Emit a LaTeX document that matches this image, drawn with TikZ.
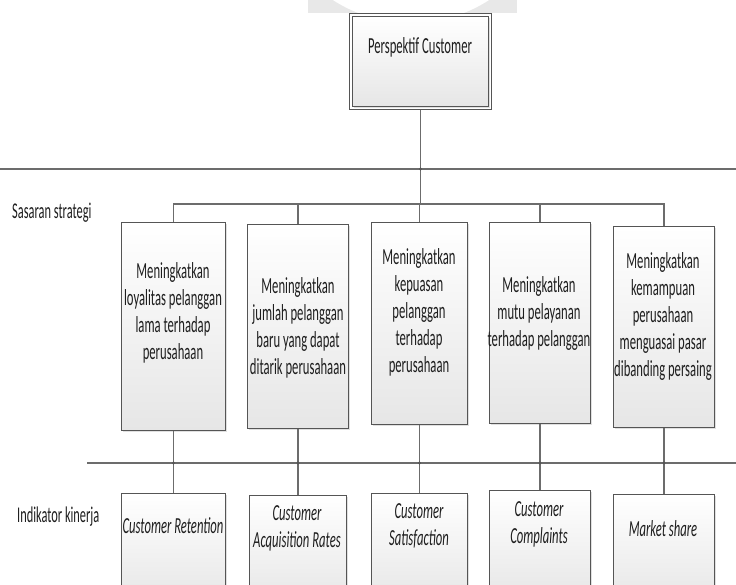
\documentclass[tikz,border=0pt]{standalone}
\usepackage{fontspec}
\setmainfont[FakeStretch=0.55]{Carlito}
\usetikzlibrary{shadows,fit,calc}
\definecolor{linegray}{HTML}{6C6C6C}
\definecolor{boxline}{HTML}{555555}
\definecolor{boxbottom}{HTML}{E6E6E6}
\definecolor{wmark}{HTML}{E8E8E8}
\definecolor{ink}{HTML}{1E1E1E}

\begin{document}
\begin{tikzpicture}[x=1pt,y=-1pt,
  conn/.style={draw=linegray, line width=1.1pt},
  boxshade/.style={draw=boxline, line width=0.9pt, top color=white, bottom color=boxbottom,
    drop shadow={shadow xshift=1.5pt, shadow yshift=-1.5pt, fill=black!12, opacity=1}},
  sbox/.style={boxshade, inner sep=0pt, anchor=north west},
  lbl/.style={font=\fontsize{23}{27}\selectfont, align=center, inner sep=0pt, text=ink},
  ilbl/.style={lbl, font=\fontsize{23}{27}\selectfont\itshape},
  side/.style={font=\fontsize{22.5}{24}\selectfont, inner sep=0pt, text=ink, anchor=west},
  jdot/.style={fill=boxline}]

\useasboundingbox (0,0) rectangle (736,584);
\clip (0,0) rectangle (736,584);

% faint strip along the top edge
\begin{scope}
  \clip (308,0) rectangle (517,13);
  \fill[wmark] (308,0) rectangle (517,13);
  \fill[white] (411,-121) circle (144);
\end{scope}

% top box with double frame
\node[sbox, minimum width=136pt, minimum height=90pt] (pc) at (352,16) {};
\node[draw=boxline, line width=0.9pt, fit=(pc), inner sep=3pt] (pcf) {};
\node[lbl] (pct) at (420,47) {Perspektif Customer};

% strategic objectives
\node[sbox, minimum width=104pt, minimum height=208pt] (s1) at (121,222) {};
\node[sbox, minimum width=101pt, minimum height=204pt] (s2) at (247,224) {};
\node[sbox, minimum width=96pt,  minimum height=202pt] (s3) at (371,222) {};
\node[sbox, minimum width=101pt, minimum height=201pt] (s4) at (489,222) {};
\node[sbox, minimum width=101pt, minimum height=201pt] (s5) at (613,226) {};

\node[lbl] (s1t) at (173,313) {Meningkatkan\\loyalitas pelanggan\\lama terhadap\\perusahaan};
\node[lbl] (s2t) at (298,328) {Meningkatkan\\jumlah pelanggan\\baru yang dapat\\ditarik perusahaan};
\node[lbl] (s3t) at (419,312) {Meningkatkan\\kepuasan\\pelanggan\\terhadap\\perusahaan};
\node[lbl] (s4t) at (539,313) {Meningkatkan\\mutu pelayanan\\terhadap pelanggan};
\node[lbl] (s5t) at (663,316) {Meningkatkan\\kemampuan\\perusahaan\\menguasai pasar\\dibanding persaing};

% performance indicators
\node[sbox, minimum width=104pt, minimum height=110pt] (k1) at (121,493) {};
\node[sbox, minimum width=97pt,  minimum height=110pt] (k2) at (249,495) {};
\node[sbox, minimum width=96pt,  minimum height=110pt] (k3) at (371,493) {};
\node[sbox, minimum width=101pt, minimum height=110pt] (k4) at (489,490) {};
\node[sbox, minimum width=101pt, minimum height=110pt] (k5) at (613,494) {};

\node[ilbl] (k1t) at (173,526) {Customer Retention};
\node[ilbl] (k2t) at (297,528) {Customer\\Acquisition Rates};
\node[ilbl] (k3t) at (419,526) {Customer\\Satisfaction};
\node[ilbl] (k4t) at (539,524) {Customer\\Complaints};
\node[ilbl] (k5t) at (663,529) {Market share};

% row labels
\node[side] (rowa) at (12,213) {Sasaran strategi};
\node[side] (rowb) at (17,517) {Indikator kinerja};

% level separators
\coordinate (h1w) at (0,169);
\coordinate (h1e) at (736,169);
\coordinate (h2w) at (87,463);
\coordinate (h2e) at (736,463);
\draw[conn] (h1w) -- (h1e);
\draw[conn] (h2w) -- (h2e);

% tree connectors
\coordinate (br) at (420,204);
\draw[conn] (pcf.south) -- (pcf.south |- br);
\draw[conn] (s1.north) |- (s5.north |- br) -- (s5.north);
\foreach \n in {s2,s3,s4}
  \draw[conn] (\n.north) -- (\n.north |- br);
\foreach \n/\m in {s1/k1,s2/k2,s3/k3,s4/k4,s5/k5}
  \draw[conn] (\n.south) -- (\n.south |- \m.north);

% crossing marks
\fill[jdot] (pcf.south |- h1w) circle (1.6);
\foreach \n in {s1,s2,s3,s4,s5}
  \fill[jdot] (\n.south |- h2w) circle (1.6);
\end{tikzpicture}
\end{document}
